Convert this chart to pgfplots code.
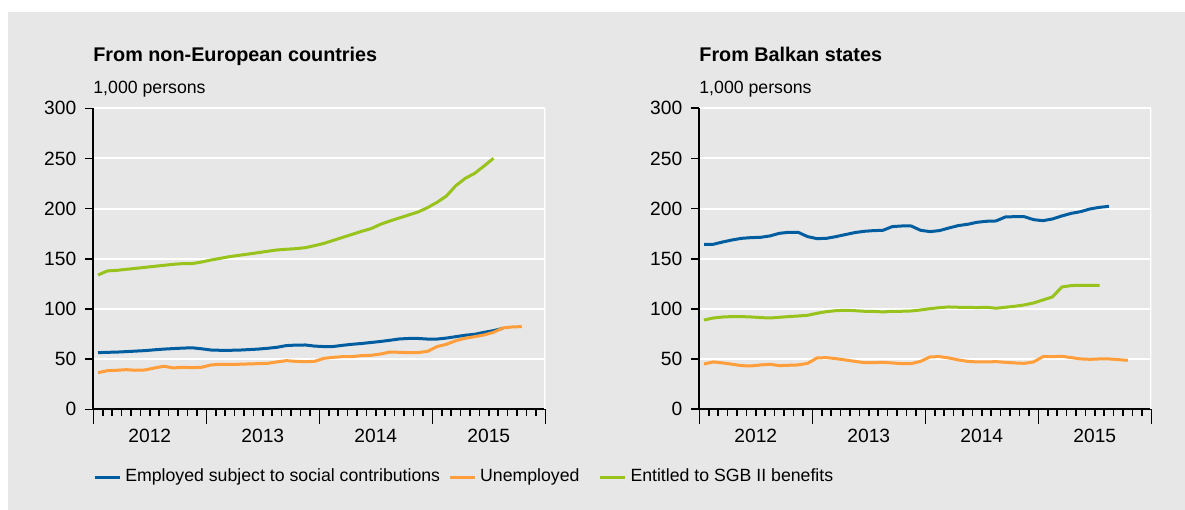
\documentclass[border=0pt]{standalone}
\usepackage{fontspec}
\setmainfont{Liberation Sans}
\usepackage{pgfplots}
\pgfplotsset{compat=1.18}
\usepackage{pgfplotstable}
\definecolor{bgc}{RGB}{231,231,231}
\definecolor{cblue}{RGB}{0,94,160}
\definecolor{corange}{RGB}{255,158,58}
\definecolor{cgreen}{RGB}{152,194,28}

\pgfplotstableread{
m v
0 56.5
1 56.8
2 57.0
3 57.5
4 58.0
5 58.5
6 59.3
7 60.0
8 60.5
9 61.0
10 61.3
11 60.3
12 59.1
13 58.8
14 58.8
15 59.0
16 59.5
17 60.0
18 60.8
19 61.8
20 63.5
21 64.0
22 64.1
23 63.0
24 62.5
25 62.6
26 63.8
27 64.8
28 65.6
29 66.6
30 67.6
31 68.8
32 70.1
33 70.6
34 70.6
35 70.0
36 70.0
37 71.0
38 72.4
39 73.8
40 74.8
41 76.7
42 78.4
43 80.7
}\LBlue
\pgfplotstableread{
m v
0 36.5
1 38.5
2 38.9
3 39.5
4 38.9
5 39.2
6 41.2
7 42.9
8 41.2
9 41.9
10 41.5
11 41.9
12 44.2
13 44.9
14 44.9
15 44.9
16 45.2
17 45.5
18 45.8
19 47.2
20 48.5
21 47.8
22 47.5
23 47.8
24 50.8
25 51.8
26 52.5
27 52.5
28 53.5
29 53.8
30 55.1
31 57.1
32 56.8
33 56.5
34 56.5
35 57.8
36 62.5
37 64.8
38 68.4
39 70.8
40 72.4
41 74.1
42 76.7
43 81.1
44 82.1
45 82.4
}\LOrange
\pgfplotstableread{
m v
0 133.9
1 137.9
2 138.5
3 139.5
4 140.5
5 141.5
6 142.5
7 143.5
8 144.5
9 145.2
10 145.2
11 146.8
12 148.8
13 150.5
14 152.2
15 153.5
16 154.8
17 156.1
18 157.5
19 158.8
20 159.5
21 160.1
22 161.1
23 163.1
24 165.4
25 168.4
26 171.4
27 174.4
28 177.4
29 180.1
30 184.4
31 187.7
32 190.7
33 193.7
34 196.7
35 201.0
36 206.3
37 212.6
38 222.9
39 230.2
40 235.2
41 242.5
42 250.2
}\LGreen
\pgfplotstableread{
m v
0 164.5
1 164.5
2 166.8
3 168.8
4 170.4
5 171.1
6 171.4
7 172.8
8 175.4
9 176.4
10 176.4
11 172.1
12 170.1
13 170.4
14 172.1
15 174.1
16 176.1
17 177.4
18 178.1
19 178.4
20 182.1
21 182.7
22 182.7
23 178.4
24 177.1
25 178.1
26 180.7
27 183.1
28 184.4
29 186.4
30 187.4
31 187.7
32 191.7
33 192.0
34 192.0
35 189.0
36 188.0
37 189.7
38 192.7
39 195.3
40 197.0
41 199.7
42 201.3
43 202.3
}\RBlue
\pgfplotstableread{
m v
0 45.2
1 47.2
2 46.2
3 44.9
4 43.5
5 43.2
6 44.2
7 44.9
8 43.5
9 43.9
10 44.2
11 45.8
12 51.2
13 51.5
14 50.5
15 49.2
16 47.8
17 46.5
18 46.5
19 46.8
20 46.2
21 45.5
22 45.5
23 47.8
24 52.2
25 52.5
26 51.2
27 49.2
28 47.8
29 47.2
30 47.2
31 47.5
32 46.8
33 46.2
34 45.8
35 47.2
36 52.5
37 52.5
38 52.8
39 51.5
40 50.2
41 49.8
42 50.2
43 50.2
44 49.5
45 48.8
}\ROrange
\pgfplotstableread{
m v
0 89.0
1 91.0
2 92.0
3 92.4
4 92.4
5 92.0
6 91.4
7 91.0
8 91.7
9 92.4
10 93.0
11 93.7
12 95.7
13 97.3
14 98.3
15 98.7
16 98.3
17 97.7
18 97.7
19 97.0
20 97.7
21 97.7
22 98.0
23 99.0
24 100.3
25 101.3
26 102.0
27 101.7
28 101.7
29 101.3
30 101.7
31 100.7
32 101.7
33 102.7
34 104.0
35 106.0
36 109.0
37 112.0
38 121.9
39 123.3
40 123.6
41 123.6
42 123.6
}\RGreen

\pgfplotsset{
  panel/.style={
    scale only axis, width=226bp, height=150.5bp,
    xmin=0, xmax=48, ymin=0, ymax=300,
    axis x line*=bottom, axis y line*=left,
    axis line style={black, line width=1bp, -},
    ytick={0,50,...,300},
    ymajorgrids, grid style={white, line width=1bp},
    xtick={6,18,30,42}, xticklabels={2012,2013,2014,2015},
    major x tick style={draw=none},
    minor xtick={1,...,47},
    tick align=outside,
    major tick length=4bp, minor tick length=3.4bp,
    tick style={black, line width=0.8bp},
    extra x ticks={0,12,24,36,48}, extra x tick labels={},
    extra x tick style={major tick length=7.5bp, major x tick style={draw=black}},
    /pgf/number format/assume math mode=true,
    tick label style={font=\fontsize{9.6bp}{11bp}\selectfont},
    xticklabel style={yshift=-2.2bp},
    yticklabel style={xshift=-1.0bp},
    every axis plot/.append style={line width=1.5bp, line join=round},
  },
}

\begin{document}
\begin{tikzpicture}
\fill[white] (0bp,0bp) rectangle (592.5bp,255bp);
\fill[bgc] (4bp,0bp) rectangle (592.5bp,249bp);

\node[anchor=base west, inner sep=0pt, font=\fontsize{9.9bp}{12bp}\selectfont\bfseries] at (46.5bp,224bp) {From non-European countries};
\node[anchor=base west, inner sep=0pt, font=\fontsize{8.85bp}{10bp}\selectfont] at (46.5bp,208.25bp) {1,000 persons};
\node[anchor=base west, inner sep=0pt, font=\fontsize{9.9bp}{12bp}\selectfont\bfseries] at (349.5bp,224bp) {From Balkan states};
\node[anchor=base west, inner sep=0pt, font=\fontsize{8.85bp}{10bp}\selectfont] at (349.5bp,208.25bp) {1,000 persons};

\begin{axis}[panel, at={(46.65bp,50.35bp)}, anchor=south west,
  legend columns=3,
  legend image code/.code={\draw[#1] (0bp,0bp) -- (12.5bp,0bp);},
  legend style={at={(axis description cs:0,-0.225)}, anchor=west,
    draw=none, fill=none, inner sep=0pt, outer sep=0pt,
    font=\fontsize{8.85bp}{10bp}\selectfont,
    nodes={inner sep=0pt},
    /tikz/column 1/.style={column sep=2bp},
    /tikz/column 2/.style={column sep=4bp},
    /tikz/column 3/.style={column sep=2bp},
    /tikz/column 4/.style={column sep=9.5bp},
    /tikz/column 5/.style={column sep=2bp},
  },
]
\addplot[cblue] table[x expr=\thisrow{m}+0.5, y=v] {\LBlue};
\addlegendentry{Employed subject to social contributions}
\addplot[corange] table[x expr=\thisrow{m}+0.5, y=v] {\LOrange};
\addlegendentry{Unemployed}
\addplot[cgreen] table[x expr=\thisrow{m}+0.5, y=v] {\LGreen};
\addlegendentry{Entitled to SGB II benefits}
\draw[white, line width=1bp] (rel axis cs:1,0) -- (rel axis cs:1,1);
\end{axis}

\begin{axis}[panel, at={(349.65bp,50.35bp)}, anchor=south west]
\addplot[cblue] table[x expr=\thisrow{m}+0.5, y=v] {\RBlue};
\addplot[corange] table[x expr=\thisrow{m}+0.5, y=v] {\ROrange};
\addplot[cgreen] table[x expr=\thisrow{m}+0.5, y=v] {\RGreen};
\draw[white, line width=1bp] (rel axis cs:1,0) -- (rel axis cs:1,1);
\end{axis}
\end{tikzpicture}
\end{document}
